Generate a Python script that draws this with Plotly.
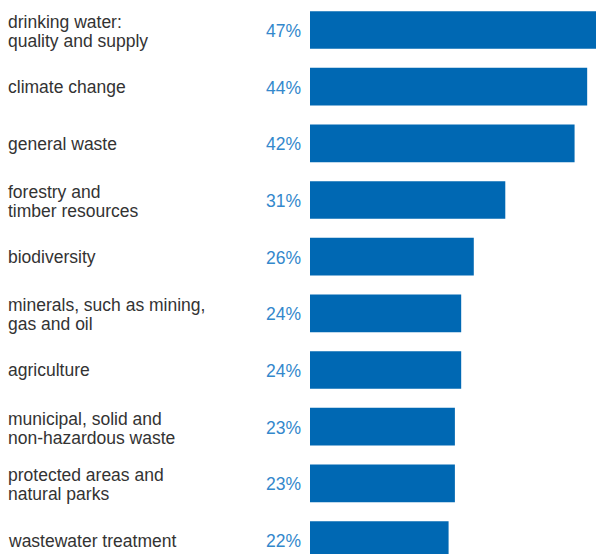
import plotly.graph_objects as go

categories = [
    "drinking water:<br>quality and supply",
    "climate change",
    "general waste",
    "forestry and<br>timber resources",
    "biodiversity",
    "minerals, such as mining,<br>gas and oil",
    "agriculture",
    "municipal, solid and<br>non-hazardous waste",
    "protected areas and<br>natural parks",
    "wastewater treatment",
]
values = [47, 44, 42, 31, 26, 24, 24, 23, 23, 22]

W, H = 596, 554
BAR_COLOR = "#0068b3"
PCT_COLOR = "#3388cc"
TEXT_COLOR = "#333333"
FONT = "Liberation Sans, Arial, sans-serif"
FS = 17.5

idx = list(range(len(categories)))

fig = go.Figure(
    go.Bar(
        x=values,
        y=idx,
        orientation="h",
        marker=dict(color=BAR_COLOR, line=dict(width=0)),
        width=0.665,
        hoverinfo="skip",
    )
)

annotations = []
for i, (cat, v) in enumerate(zip(categories, values)):
    # percentage label to the left of the bar
    annotations.append(dict(
        x=0, y=i, xref="x", yref="y", text=f"{v}%", showarrow=False,
        xanchor="right", yanchor="middle", xshift=-7, yshift=-1,
        font=dict(family=FONT, size=FS, color=PCT_COLOR),
    ))
    # category label, left aligned; multi-line labels drawn line by line
    lines = cat.split("<br>")
    shifts = [-0.5] if len(lines) == 1 else [8, -11]
    for line, ys in zip(lines, shifts):
        annotations.append(dict(
            x=6 / W, y=i, xref="paper", yref="y", text=line, showarrow=False,
            xanchor="left", yanchor="middle", yshift=ys,
            font=dict(family=FONT, size=FS, color=TEXT_COLOR),
        ))

fig.update_layout(
    width=W, height=H,
    margin=dict(l=0, r=0, t=0, b=0),
    paper_bgcolor="white", plot_bgcolor="white",
    showlegend=False,
    xaxis=dict(domain=[310 / W, 1], range=[0, 45.4], visible=False, fixedrange=True),
    yaxis=dict(domain=[0, 1], range=[9.247, -0.529], visible=False, fixedrange=True),
    annotations=annotations,
)

fig.write_html("out.html")
